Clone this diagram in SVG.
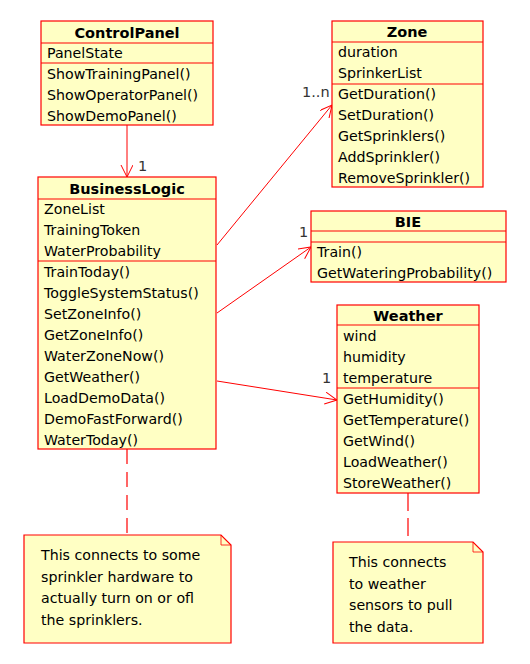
<svg xmlns="http://www.w3.org/2000/svg" width="530" height="664" viewBox="0 0 530 664">
<style>
.box{fill:#ffffc4;stroke:#ff0000;stroke-width:1.2}
.sep{stroke:#ff0000;stroke-width:1.2}
.t{font-family:"DejaVu Sans",sans-serif;font-size:14.2px;fill:#000}
.n{font-family:"DejaVu Sans",sans-serif;font-size:14.2px;fill:#000}
.h{font-family:"DejaVu Sans",sans-serif;font-size:14.5px;font-weight:bold;fill:#000;text-anchor:middle}
.m{font-family:"DejaVu Sans",sans-serif;font-size:14.5px;fill:#333}
.c{stroke:#ff0000;stroke-width:1;fill:none}
.d{stroke:#ff0000;stroke-width:1.2;fill:none}
</style>
<defs>
<marker id="open" markerWidth="14" markerHeight="14" refX="12" refY="6" orient="auto" markerUnits="userSpaceOnUse">
<path d="M0,0 L12,6 L0,12" fill="none" stroke="#ff0000" stroke-width="1"/>
</marker>
</defs>
<rect width="530" height="664" fill="#ffffff"/>
<g id="connectors">
<line class="c" x1="127" y1="125" x2="127" y2="177" marker-end="url(#open)"/>
<text class="m" x="138" y="171">1</text>
<line class="c" x1="217" y1="245" x2="332" y2="105" marker-end="url(#open)"/>
<text class="m" x="302" y="97">1..n</text>
<line class="c" x1="217" y1="313" x2="311" y2="247" marker-end="url(#open)"/>
<text class="m" x="299" y="237">1</text>
<line class="c" x1="217" y1="381" x2="337" y2="400" marker-end="url(#open)"/>
<text class="m" x="322" y="383">1</text>
<line class="d" x1="127" y1="449" x2="127" y2="535" stroke-dasharray="15,8"/>
<line class="d" x1="408" y1="493" x2="408" y2="542" stroke-dasharray="18,7"/>
</g>
<g id="ControlPanel">
<rect class="box" x="41" y="21" width="172" height="104"/>
<line class="sep" x1="41" y1="43" x2="213" y2="43"/>
<line class="sep" x1="41" y1="63" x2="213" y2="63"/>
<text class="h" x="127" y="38">ControlPanel</text>
<text class="t" x="47" y="58">PanelState</text>
<text class="t" x="47" y="79">ShowTrainingPanel()</text>
<text class="t" x="47" y="100">ShowOperatorPanel()</text>
<text class="t" x="47" y="121">ShowDemoPanel()</text>
</g>
<g id="BusinessLogic">
<rect class="box" x="38" y="177" width="178" height="272"/>
<line class="sep" x1="38" y1="199" x2="216" y2="199"/>
<line class="sep" x1="38" y1="261" x2="216" y2="261"/>
<text class="h" x="127" y="194">BusinessLogic</text>
<text class="t" x="44" y="214">ZoneList</text>
<text class="t" x="44" y="235">TrainingToken</text>
<text class="t" x="44" y="256">WaterProbability</text>
<text class="t" x="44" y="277">TrainToday()</text>
<text class="t" x="44" y="298">ToggleSystemStatus()</text>
<text class="t" x="44" y="319">SetZoneInfo()</text>
<text class="t" x="44" y="340">GetZoneInfo()</text>
<text class="t" x="44" y="361">WaterZoneNow()</text>
<text class="t" x="44" y="382">GetWeather()</text>
<text class="t" x="44" y="403">LoadDemoData()</text>
<text class="t" x="44" y="424">DemoFastForward()</text>
<text class="t" x="44" y="445">WaterToday()</text>
</g>
<g id="Zone">
<rect class="box" x="332" y="21" width="151" height="166"/>
<line class="sep" x1="332" y1="42" x2="483" y2="42"/>
<line class="sep" x1="332" y1="84" x2="483" y2="84"/>
<text class="h" x="407" y="37">Zone</text>
<text class="t" x="338" y="57">duration</text>
<text class="t" x="338" y="78">SprinkerList</text>
<text class="t" x="338" y="99">GetDuration()</text>
<text class="t" x="338" y="120">SetDuration()</text>
<text class="t" x="338" y="141">GetSprinklers()</text>
<text class="t" x="338" y="162">AddSprinkler()</text>
<text class="t" x="338" y="183">RemoveSprinkler()</text>
</g>
<g id="BIE">
<rect class="box" x="311" y="211" width="195" height="71"/>
<line class="sep" x1="311" y1="231" x2="506" y2="231"/>
<line class="sep" x1="311" y1="242" x2="506" y2="242"/>
<text class="h" x="408" y="227">BIE</text>
<text class="t" x="317" y="257">Train()</text>
<text class="t" x="317" y="278">GetWateringProbability()</text>
</g>
<g id="Weather">
<rect class="box" x="337" y="305" width="142" height="188"/>
<line class="sep" x1="337" y1="325" x2="479" y2="325"/>
<line class="sep" x1="337" y1="388" x2="479" y2="388"/>
<text class="h" x="408" y="321">Weather</text>
<text class="t" x="343" y="341">wind</text>
<text class="t" x="343" y="362">humidity</text>
<text class="t" x="343" y="383">temperature</text>
<text class="t" x="343" y="404">GetHumidity()</text>
<text class="t" x="343" y="425">GetTemperature()</text>
<text class="t" x="343" y="446">GetWind()</text>
<text class="t" x="343" y="467">LoadWeather()</text>
<text class="t" x="343" y="488">StoreWeather()</text>
</g>
<g id="note1">
<path class="box" d="M24,535 L221,535 L231,545 L231,643 L24,643 Z"/>
<path d="M221,535 L221,545 L231,545" fill="none" stroke="#ff0000" stroke-width="0.8"/>
<text class="n" x="41" y="560">This connects to some</text>
<text class="n" x="41" y="582">sprinkler hardware to</text>
<text class="n" x="41" y="603">actually turn on or ofl</text>
<text class="n" x="41" y="625">the sprinklers.</text>
</g>
<g id="note2">
<path class="box" d="M333,542 L473,542 L483,552 L483,643 L333,643 Z"/>
<path d="M473,542 L473,552 L483,552" fill="none" stroke="#ff0000" stroke-width="0.8"/>
<text class="n" x="349" y="567">This connects</text>
<text class="n" x="349" y="589">to weather</text>
<text class="n" x="349" y="610">sensors to pull</text>
<text class="n" x="349" y="632">the data.</text>
</g>
</svg>
